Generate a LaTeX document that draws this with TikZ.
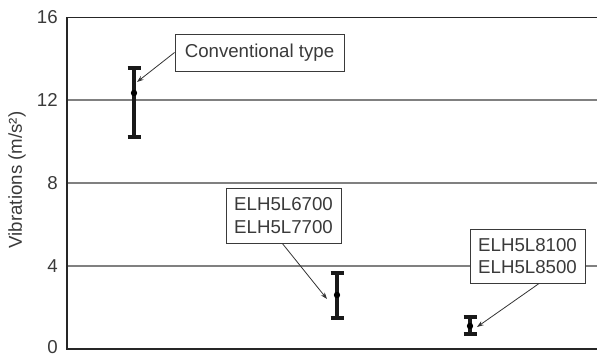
\documentclass[tikz,border=0pt]{standalone}
\usepackage{fontspec}
\setmainfont{Liberation Sans}
\usetikzlibrary{calc,arrows.meta}
\definecolor{txt}{HTML}{3A3A3A}
\definecolor{grid}{HTML}{808080}
\tikzset{
  lbl/.style={font=\fontsize{14}{17}\selectfont, text=txt, inner sep=0pt},
  tick/.style={lbl, anchor=east},
  callout/.style={draw=txt, line width=0.7pt, fill=white, lbl, align=center, inner sep=0pt},
  pointer/.style={draw=black!80, line width=0.6pt, -{Stealth[length=5pt,width=3.5pt]}},
  ebar/.style={line width=2.3pt, black!90},
  gridline/.style={grid, line width=1pt},
  axisline/.style={black!85, line width=1.1pt}
}
\begin{document}
\begin{tikzpicture}[x=0.75pt,y=-0.75pt]
\useasboundingbox (0,0) rectangle (597,356);
% axes and grid
\draw[gridline] (67,100) -- (597,100);
\draw[gridline] (67,183) -- (597,183);
\draw[gridline] (67,266) -- (597,266);
\draw[axisline] (67,17.5) -- (597,17.5);
\draw[axisline] (597,349) -- (67,349) -- (67,17.5);
% tick labels
\node[tick] (t16) at (58,17) {16};
\node[tick] (t12) at (58,100) {12};
\node[tick] (t8) at (58,183) {8};
\node[tick] (t4) at (58,266) {4};
\node[tick] (t0) at (58,347) {0};
\node[lbl, rotate=90] (ylab) at (17,180) {Vibrations (m/s²)};
% error bars
\foreach \x/\t/\b/\m in {134/68/137/93, 337/273/318/295, 470/317/334/326}{
  \draw[ebar] (\x,\t) -- (\x,\b);
  \draw[ebar] (\x-6.5,\t) -- (\x+6.5,\t);
  \draw[ebar] (\x-6.5,\b) -- (\x+6.5,\b);
  \fill[black] (\x,\m) circle (3.2);
}
% callouts
\node[callout, minimum width=169*0.75pt, minimum height=37*0.75pt] (c1) at (259.5,52.5) {Conventional type};
\node[callout, minimum width=115*0.75pt, minimum height=55*0.75pt] (c2) at (283.5,215.5) {ELH5L6700\\ELH5L7700};
\node[callout, minimum width=115*0.75pt, minimum height=54*0.75pt] (c3) at (527.5,256) {ELH5L8100\\ELH5L8500};
\coordinate (p1) at (137,82);
\coordinate (p2) at (327,299);
\coordinate (p3) at (477,327);
\draw[pointer] (c1.west) -- (p1);
\draw[pointer] ($(c2.south west)!0.49!(c2.south east)$) -- (p2);
\draw[pointer] ($(c3.south west)!0.6!(c3.south east)$) -- (p3);
\end{tikzpicture}
\end{document}
